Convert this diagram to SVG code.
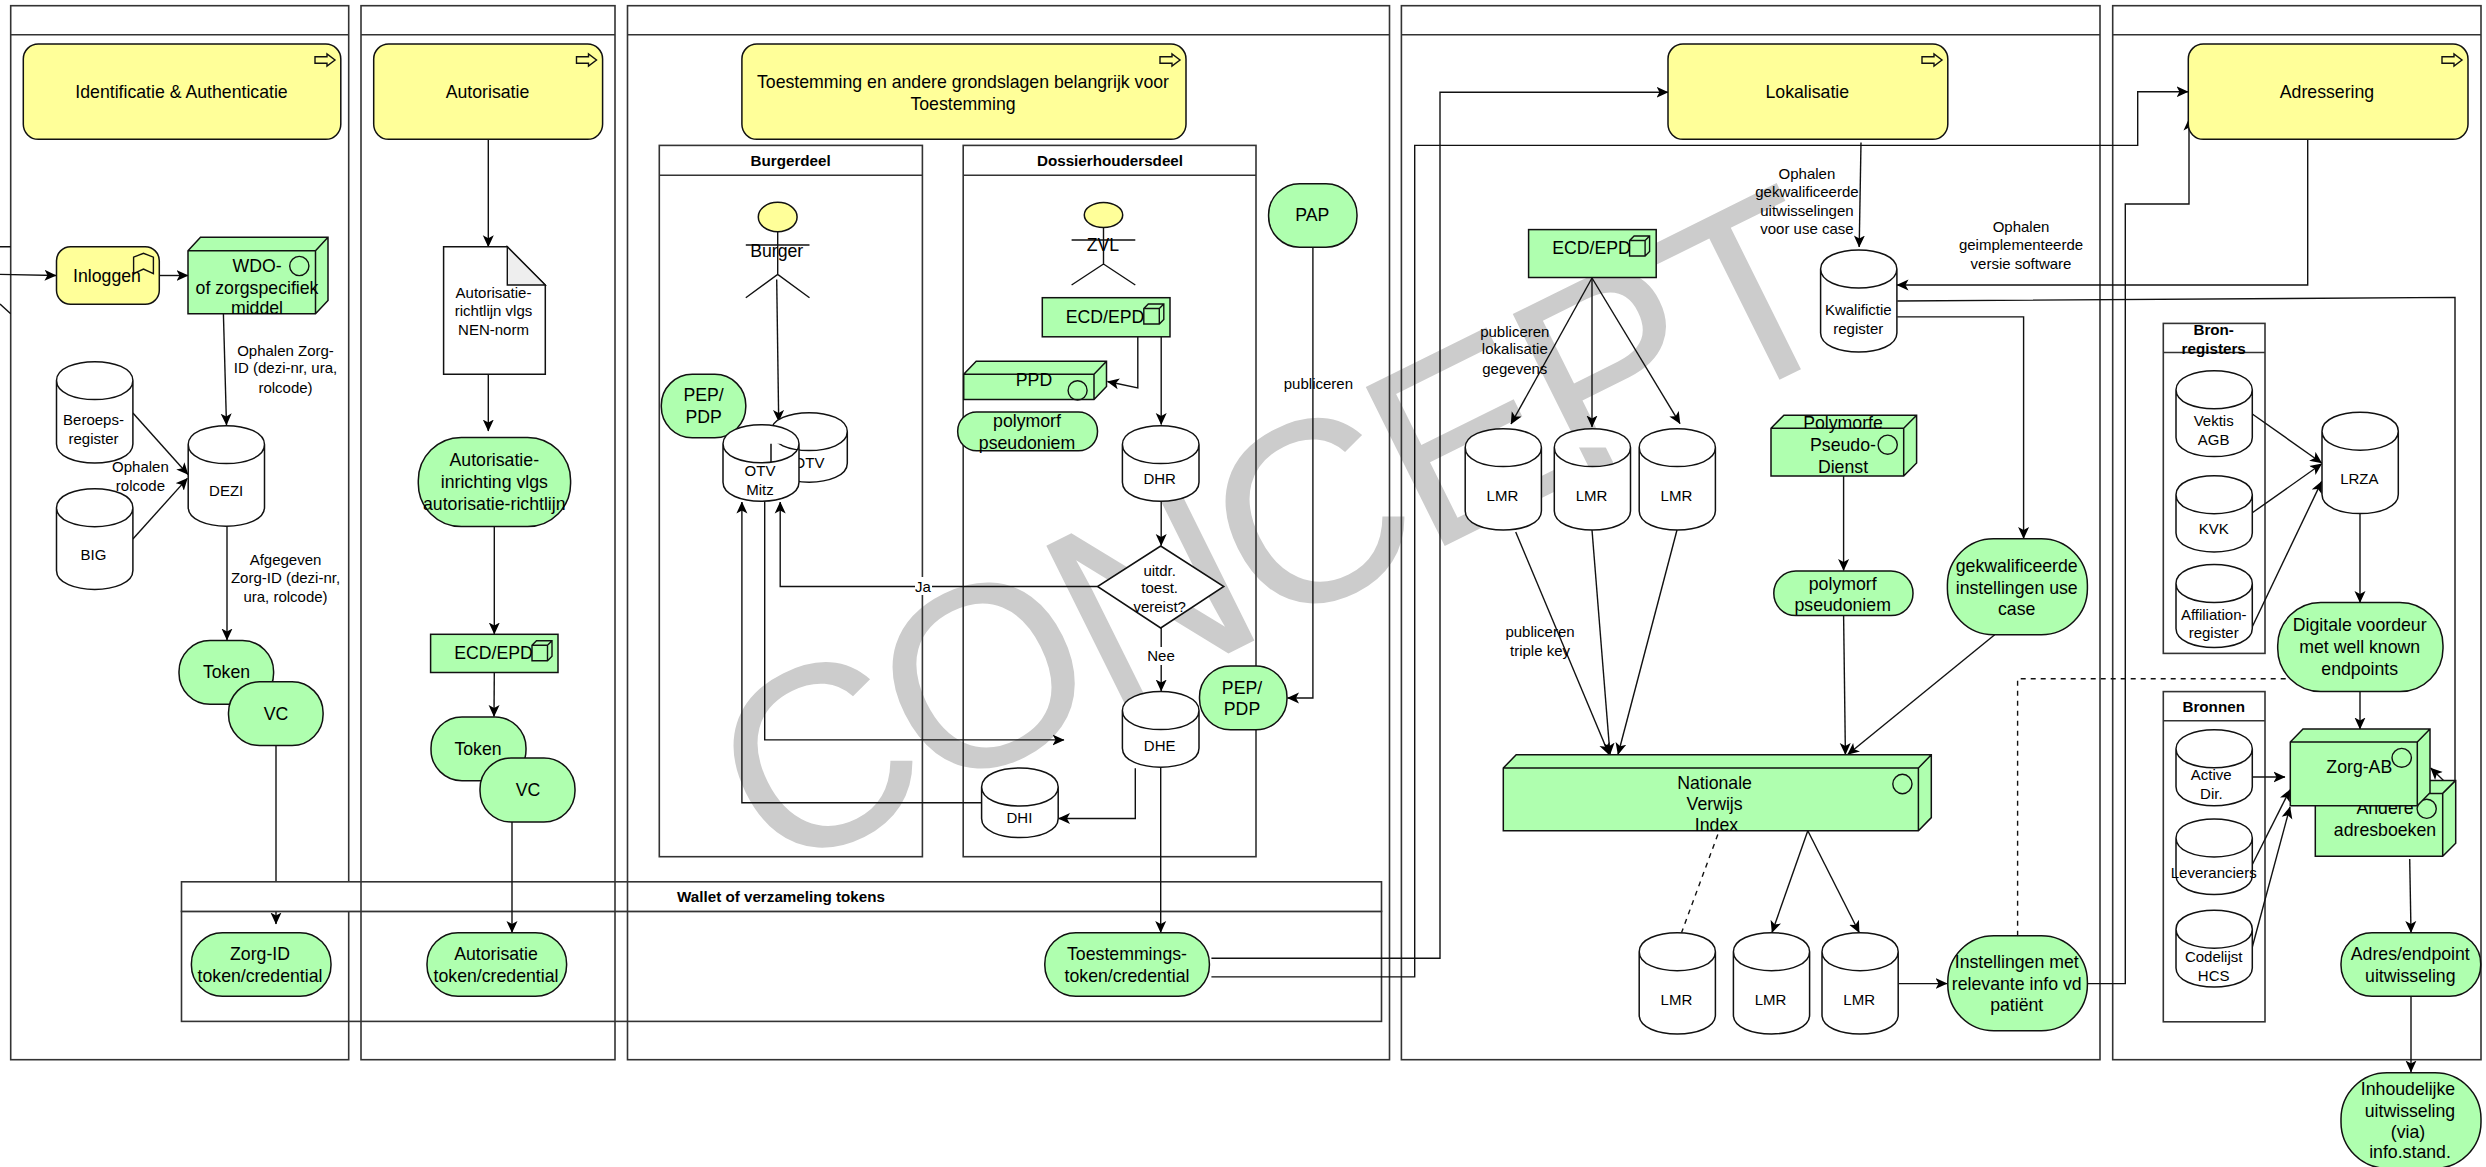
<svg xmlns="http://www.w3.org/2000/svg" xmlns:xlink="http://www.w3.org/1999/xlink" width="2486" height="1167" viewBox="0 0 2486 1167">
<style>
text{font-family:"Liberation Sans",Arial,sans-serif;fill:#000;text-anchor:middle;dominant-baseline:central}
.b{font-size:17.7px}.s{font-size:15px}.t{font-size:15.2px;font-weight:bold}
.panel{fill:none;stroke:#333;stroke-width:1.6}
.hd{fill:#fff;stroke:#333;stroke-width:1.6}
.y{fill:#ffff99;stroke:#111;stroke-width:1.5}
.g{fill:#afffaf;stroke:#111;stroke-width:1.5}
.w{fill:#fff;stroke:#111;stroke-width:1.5}
.i{fill:none;stroke:#111;stroke-width:1.4}
.c{fill:none;stroke:#111;stroke-width:1.4}
.a{marker-end:url(#arr)}
.d{stroke-dasharray:5 5}
.bg{fill:#fff;stroke:none}
</style>
<defs>
<marker id="arr" viewBox="0 0 12 12" refX="11.5" refY="6" markerWidth="12" markerHeight="12" markerUnits="userSpaceOnUse" orient="auto"><path d="M0,0.5 L12,6 L0,11.5 L3,6 Z" fill="#000"/></marker>
<path id="arrow-icon" class="i" d="M0,-3.2 H12 V-6 L20,0 L12,6 V3.2 H0 Z"/>
<path id="cube" class="i" d="M0,4.5 L4.5,0 H20 V15.5 L15.5,20 H0 Z M0,4.5 H15.5 V20 M15.5,4.5 L20,0"/>
</defs>

<text id="watermark" x="774" y="879" transform="rotate(-26.4 774 879)" style="font-size:258px;letter-spacing:-8px;fill:#cccccc;text-anchor:start;dominant-baseline:auto">CONCEPT</text>

<g id="panel-1"><rect class="panel" x="10.7" y="5.7" width="338" height="1054"/><line class="panel" x1="10.7" y1="34.8" x2="348.7" y2="34.8"/></g>
<g id="wallet"><rect class="panel" x="181.5" y="911.4" width="1200" height="110"/><rect class="hd" x="181.5" y="881.8" width="1200" height="29.6"/><text class="t" x="781" y="896.7">Wallet of verzameling tokens</text></g>
<g id="panel-2"><rect class="panel" x="361" y="5.7" width="254" height="1054"/><line class="panel" x1="361" y1="34.8" x2="615" y2="34.8"/></g>
<g id="panel-3"><rect class="panel" x="627.5" y="5.7" width="762" height="1054"/><line class="panel" x1="627.5" y1="34.8" x2="1389.5" y2="34.8"/></g>
<g id="panel-4"><rect class="panel" x="1401.4" y="5.7" width="698.6" height="1054"/><line class="panel" x1="1401.4" y1="34.8" x2="2100" y2="34.8"/></g>
<g id="panel-5"><rect class="panel" x="2112.7" y="5.7" width="368.3" height="1054"/><line class="panel" x1="2112.7" y1="34.8" x2="2481" y2="34.8"/></g>
<g id="burgerdeel"><rect class="panel" x="659.3" y="145.4" width="263.1" height="711.3"/><line class="panel" x1="659.3" y1="175.3" x2="922.4" y2="175.3"/><text class="t" x="790.6" y="160">Burgerdeel</text></g>
<g id="dossierhoudersdeel"><rect class="panel" x="963.2" y="145.4" width="292.8" height="711.3"/><line class="panel" x1="963.2" y1="175.3" x2="1256" y2="175.3"/><text class="t" x="1110" y="160">Dossierhoudersdeel</text></g>
<g id="bronregisters"><rect class="panel" x="2163.3" y="323.4" width="101.7" height="330"/><line class="panel" x1="2163.3" y1="352.5" x2="2265" y2="352.5"/><text class="t"><tspan x="2213.7" y="329">Bron-</tspan><tspan x="2213.7" y="348">registers</tspan></text></g>
<g id="bronnen"><rect class="panel" x="2163.3" y="691.6" width="101.7" height="330.2"/><line class="panel" x1="2163.3" y1="720.8" x2="2265" y2="720.8"/><text class="t" x="2213.7" y="706.2">Bronnen</text></g>

<g id="connectors">
<path class="c" d="M0,246.8 H10.7 M0,304 L10.7,313.8"/>
<path class="c a" d="M0,274.4 L56,275.5"/>
<path class="c a" d="M159.3,275.5 H188"/>
<path class="c a" d="M223.4,313.8 L226.5,425"/>
<path class="c a" d="M132.9,413 L188,474.5"/>
<path class="c a" d="M132.9,539 L187.4,478.4"/>
<path class="c a" d="M227,526.2 V640"/>
<path class="c" d="M276,745.5 V881"/>
<path class="c a" d="M276,911.8 V924"/>
<path class="c a" d="M488.3,139.3 V246.8"/>
<path class="c a" d="M488.3,374.3 V431"/>
<path class="c a" d="M494.3,526.6 V634"/>
<path class="c a" d="M494.3,672.5 L494,716.5"/>
<path class="c a" d="M512,822 V932.5"/>
<path class="c a" d="M776.7,279.4 L778.7,421.5"/>
<path class="c a" d="M981.6,802.8 H741.9 V502"/>
<path class="c a" d="M764.7,501.3 V739.9 H1064"/>
<path class="c a" d="M1097.5,586.5 H780.2 V502"/>
<path class="c a" d="M1137.8,336.8 V388 L1107.5,381.5"/>
<path class="c a" d="M1161.2,336.8 V424.5"/>
<path class="c a" d="M1161.2,501.3 V545.5"/>
<path class="c a" d="M1161.2,628 V691"/>
<path class="c a" d="M1135.3,768.3 V818.5 H1058.5"/>
<path class="c a" d="M1160.7,767.2 V932.5"/>
<path class="c a" d="M1312.9,247.2 V698 H1287.5"/>
<path class="c a" d="M1211.4,958.2 H1440 V92.2 H1668"/>
<path class="c a" d="M1211.4,976.9 H1414.7 V145.4 H2137.7 V91.8 H2188"/>
<path class="c a" d="M1861,142.4 L1859.2,247"/>
<path class="c a" d="M2307.7,139.3 V285 H1897"/>
<path class="c a" d="M1897.3,301 L2455,297.4 V791.7 L2430.7,768"/>
<path class="c a" d="M1897.3,316.9 H2023.6 V538.5"/>
<path class="c a" d="M1592,278 L1511,424"/>
<path class="c a" d="M1592,278 V427"/>
<path class="c a" d="M1592,278 L1680,423.6"/>
<path class="c a" d="M1515.7,532 L1609,754.5"/>
<path class="c a" d="M1592,530 L1610,754.5"/>
<path class="c a" d="M1677,530 L1618,754.5"/>
<path class="c a" d="M1843.6,476 V570.5"/>
<path class="c a" d="M1843.6,615.6 L1845.4,754.5"/>
<path class="c a" d="M1994.7,634.7 L1847.7,754.5"/>
<path class="c a" d="M1807.8,830.8 L1772,932.5"/>
<path class="c a" d="M1807.8,830.8 L1859.2,932.5"/>
<path class="c d" d="M1717.8,834.6 L1681.5,932.7"/>
<path class="c a" d="M1898.7,983.6 H1947"/>
<path class="c a" d="M2087.4,983.6 H2125.3 V204 H2189 V119"/>
<path class="c d" d="M2017.6,935.7 V678.8 H2291"/>
<path class="c a" d="M2252.3,414 L2321.7,463"/>
<path class="c a" d="M2252.3,512.8 L2321.7,463.8"/>
<path class="c a" d="M2251.7,628 L2321.7,481.4"/>
<path class="c a" d="M2360,513.6 V602.5"/>
<path class="c a" d="M2360,691.6 V729"/>
<path class="c a" d="M2252.3,777 H2285"/>
<path class="c a" d="M2252.3,864.5 L2290,789.7"/>
<path class="c a" d="M2252.3,947 L2290,807"/>
<path class="c a" d="M2409.7,859 L2411,932.5"/>
<path class="c a" d="M2411,996.3 V1072"/>
</g>

<g id="yellow-identificatie"><rect class="y" x="23.3" y="44" width="317.5" height="95.3" rx="15"/><use xlink:href="#arrow-icon" href="#arrow-icon" x="315" y="60"/><text class="b" x="181.5" y="91.8">Identificatie &amp; Authenticatie</text></g>
<g id="yellow-autorisatie"><rect class="y" x="373.7" y="44" width="228.9" height="95.3" rx="15"/><use href="#arrow-icon" x="576.5" y="60"/><text class="b" x="487.5" y="91.8">Autorisatie</text></g>
<g id="yellow-toestemming"><rect class="y" x="741.9" y="44" width="444.1" height="95.3" rx="15"/><use href="#arrow-icon" x="1160" y="60"/><text class="b"><tspan x="963" y="82">Toestemming en andere grondslagen belangrijk voor</tspan><tspan x="963" y="103.7">Toestemming</tspan></text></g>
<g id="yellow-lokalisatie"><rect class="y" x="1668" y="44" width="279.8" height="95.3" rx="15"/><use href="#arrow-icon" x="1922" y="60"/><text class="b" x="1807.3" y="91.8">Lokalisatie</text></g>
<g id="yellow-adressering"><rect class="y" x="2188.3" y="44" width="279.7" height="95.3" rx="15"/><use href="#arrow-icon" x="2442" y="60"/><text class="b" x="2327" y="91.8">Adressering</text></g>

<g id="inloggen"><rect class="y" x="56.5" y="246.8" width="102.8" height="57.4" rx="14"/><path class="i" d="M133.6,257.2 L143.5,253.3 L153.4,257.2 V273.6 L143.5,269 L133.6,273.6 Z"/><text class="b" x="107" y="275.5">Inloggen</text></g>
<g id="wdo"><path class="g" d="M188,250.7 L200.5,237.3 H328 V300.4 L315.5,313.8 H188 Z M188,250.7 H315.5 V313.8 M315.5,250.7 L328,237.3"/><ellipse class="i" cx="299.3" cy="266" rx="9.6" ry="9.6"/><text class="b"><tspan x="257" y="266">WDO-</tspan><tspan x="257" y="288">of zorgspecifiek</tspan><tspan x="257" y="308">middel</tspan></text></g>
<g id="beroepsregister" transform="translate(56.5,361.6)"><path class="w" d="M0,19 C0,-6.3 76.4,-6.3 76.4,19 V82.4 C76.4,107.7 0,107.7 0,82.4 Z M0,19 C0,44.3 76.4,44.3 76.4,19"/><text class="s"><tspan x="37" y="57.5">Beroeps-</tspan><tspan x="37" y="76.5">register</tspan></text></g>
<g id="big" transform="translate(56.5,488.7)"><path class="w" d="M0,19 C0,-6.3 76.4,-6.3 76.4,19 V81.7 C76.4,107 0,107 0,81.7 Z M0,19 C0,44.3 76.4,44.3 76.4,19"/><text class="s" x="37" y="66">BIG</text></g>
<g id="dezi" transform="translate(188.2,425.6)"><path class="w" d="M0,19 C0,-6.3 76.3,-6.3 76.3,19 V81.6 C76.3,106.9 0,106.9 0,81.6 Z M0,19 C0,44.3 76.3,44.3 76.3,19"/><text class="s" x="38" y="65">DEZI</text></g>
<g id="token-1"><rect class="g" x="179" y="640.6" width="94.6" height="63.7" rx="31"/><text class="b" x="226.5" y="672">Token</text></g>
<g id="vc-1"><rect class="g" x="228.5" y="681.8" width="94.6" height="63.7" rx="31"/><text class="b" x="276" y="713.5">VC</text></g>
<g id="zorg-id-token"><rect class="g" x="191.4" y="932.7" width="139.6" height="63.6" rx="31"/><text class="b"><tspan x="260" y="954.4">Zorg-ID</tspan><tspan x="260" y="975.7">token/credential</tspan></text></g>
<text class="s"><tspan x="285.5" y="350">Ophalen Zorg-</tspan><tspan x="285.5" y="367">ID (dezi-nr, ura,</tspan><tspan x="285.5" y="386.5">rolcode)</tspan></text>
<text class="s"><tspan x="140.4" y="466">Ophalen</tspan><tspan x="140.4" y="485">rolcode</tspan></text>
<text class="s"><tspan x="285.5" y="559">Afgegeven</tspan><tspan x="285.5" y="577">Zorg-ID (dezi-nr,</tspan><tspan x="285.5" y="595.7">ura, rolcode)</tspan></text>

<g id="autorisatierichtlijn"><path class="w" d="M443.6,246.8 H507.3 L545.3,285 V374.3 H443.6 Z"/><path d="M507.3,246.8 L545.3,285 H507.3 Z" fill="#eee" stroke="#111" stroke-width="1.4"/><text class="s"><tspan x="493.5" y="292.4">Autorisatie-</tspan><tspan x="493.5" y="310.4">richtlijn vlgs</tspan><tspan x="493.5" y="329">NEN-norm</tspan></text></g>
<g id="autorisatie-inrichting"><rect class="g" x="418.3" y="437.4" width="152.3" height="89.2" rx="43"/><text class="b"><tspan x="494.3" y="460">Autorisatie-</tspan><tspan x="494.3" y="482">inrichting vlgs</tspan><tspan x="494.3" y="504">autorisatie-richtlijn</tspan></text></g>
<g id="ecd-epd-2"><rect class="g" x="430.6" y="634.3" width="127.4" height="38.2"/><use href="#cube" x="532" y="640.7"/><text class="b" x="493.5" y="653">ECD/EPD</text></g>
<g id="token-2"><rect class="g" x="431" y="717" width="95" height="63.7" rx="31"/><text class="b" x="478" y="748.5">Token</text></g>
<g id="vc-2"><rect class="g" x="480" y="758" width="95" height="64" rx="31"/><text class="b" x="528" y="790">VC</text></g>
<g id="autorisatie-token"><rect class="g" x="427" y="932.7" width="139.6" height="63.6" rx="31"/><text class="b"><tspan x="496" y="954.4">Autorisatie</tspan><tspan x="496" y="975.7">token/credential</tspan></text></g>

<g id="burger"><ellipse class="y" cx="777.7" cy="217" rx="19.4" ry="14.7"/><path class="i" d="M777.7,231.7 V274.4 M745.8,245 H809.5 M745.8,297.7 L777.7,274.4 L809.5,297.7"/><text class="b" x="776.7" y="251.4">Burger</text></g>
<g id="pep-pdp-1"><rect class="g" x="661.3" y="374.3" width="84.5" height="63.5" rx="31"/><text class="b"><tspan x="703.6" y="395.3">PEP/</tspan><tspan x="703.6" y="416.8">PDP</tspan></text></g>
<g id="otv" transform="translate(771,412.6)"><path class="w" d="M0,19 C0,-6.3 76.3,-6.3 76.3,19 V50.6 C76.3,75.9 0,75.9 0,50.6 Z M0,19 C0,44.3 76.3,44.3 76.3,19"/><text class="s" x="38" y="49.5">OTV</text></g>
<g id="otv-mitz" transform="translate(723,424.8)"><path class="w" d="M0,19 C0,-6.3 76,-6.3 76,19 V57.5 C76,82.8 0,82.8 0,57.5 Z M0,19 C0,44.3 76,44.3 76,19"/><text class="s"><tspan x="37" y="45.2">OTV</tspan><tspan x="37" y="63.9">Mitz</tspan></text></g>
<g id="zvl"><ellipse class="y" cx="1103.5" cy="215" rx="19.2" ry="12.6"/><path class="i" d="M1103.5,227.6 V264 M1071.6,240 H1135.3 M1071.6,285 L1103.5,264 L1135.3,285"/><text class="b" x="1103" y="245">ZVL</text></g>
<g id="ecd-epd-1"><rect class="g" x="1042.3" y="297.7" width="127.7" height="39.1"/><use href="#cube" x="1143.8" y="304"/><text class="b" x="1105" y="317">ECD/EPD</text></g>
<g id="ppd"><path class="g" d="M963.7,374.3 L976.2,361.3 H1106.5 V386.5 L1094,399.5 H963.7 Z M963.7,374.3 H1094 V399.5 M1094,374.3 L1106.5,361.3"/><ellipse class="i" cx="1077.6" cy="390.4" rx="9.5" ry="9.6"/><text class="b" x="1034" y="380">PPD</text></g>
<g id="polymorf-1"><rect class="g" x="957.7" y="412" width="139.8" height="38.8" rx="19"/><text class="b"><tspan x="1027" y="421">polymorf</tspan><tspan x="1027" y="442.8">pseudoniem</tspan></text></g>
<g id="dhr" transform="translate(1122.4,425.6)"><path class="w" d="M0,19 C0,-6.3 76.6,-6.3 76.6,19 V56.7 C76.6,82 0,82 0,56.7 Z M0,19 C0,44.3 76.6,44.3 76.6,19"/><text class="s" x="37.3" y="53">DHR</text></g>
<g id="toest-vereist"><polygon class="w" points="1160.7,546 1223.8,586.5 1160.7,628 1097.5,586.5"/><text class="s"><tspan x="1159.7" y="569.5">uitdr.</tspan><tspan x="1159.7" y="586.7">toest.</tspan><tspan x="1159.7" y="606">vereist?</tspan></text></g>
<g id="dhe" transform="translate(1122.4,691.6)"><path class="w" d="M0,19 C0,-6.3 76.6,-6.3 76.6,19 V56.6 C76.6,81.9 0,81.9 0,56.6 Z M0,19 C0,44.3 76.6,44.3 76.6,19"/><text class="s" x="37.3" y="53.9">DHE</text></g>
<g id="dhi" transform="translate(981.6,768)"><path class="w" d="M0,19 C0,-6.3 76.6,-6.3 76.6,19 V50.6 C76.6,75.9 0,75.9 0,50.6 Z M0,19 C0,44.3 76.6,44.3 76.6,19"/><text class="s" x="37.8" y="49.7">DHI</text></g>
<g id="pep-pdp-2"><rect class="g" x="1199.5" y="666" width="87.5" height="63.8" rx="31"/><text class="b"><tspan x="1242" y="687.5">PEP/</tspan><tspan x="1242" y="709">PDP</tspan></text></g>
<g id="pap"><rect class="g" x="1268.6" y="183.7" width="88.4" height="63.5" rx="31"/><text class="b" x="1312.4" y="215">PAP</text></g>
<g id="toestemmings-token"><rect class="g" x="1044.8" y="932.7" width="164.6" height="63.6" rx="31"/><text class="b"><tspan x="1127" y="954.4">Toestemmings-</tspan><tspan x="1127" y="975.7">token/credential</tspan></text></g>
<rect class="bg" x="915" y="577" width="17" height="18"/><text class="s" x="923" y="586.5">Ja</text>
<rect class="bg" x="1144" y="647" width="34" height="18"/><text class="s" x="1161" y="655.6">Nee</text>
<text class="s" x="1318.4" y="383.8">publiceren</text>

<g id="ecd-epd-3"><rect class="g" x="1528.6" y="229.6" width="127.6" height="47.9"/><use href="#cube" x="1629.6" y="236"/><text class="b" x="1591.5" y="248.4">ECD/EPD</text></g>
<g id="kwalifictie" transform="translate(1820.6,250)"><path class="w" d="M0,19 C0,-6.3 76.3,-6.3 76.3,19 V83 C76.3,108.3 0,108.3 0,83 Z M0,19 C0,44.3 76.3,44.3 76.3,19"/><text class="s"><tspan x="37.7" y="58.8">Kwalifictie</tspan><tspan x="37.7" y="78">register</tspan></text></g>
<text class="s"><tspan x="1806.9" y="173">Ophalen</tspan><tspan x="1806.9" y="191">gekwalificeerde</tspan><tspan x="1806.9" y="209.7">uitwisselingen</tspan><tspan x="1806.9" y="227.7">voor use case</tspan></text>
<text class="s"><tspan x="2021" y="226">Ophalen</tspan><tspan x="2021" y="244">geimplementeerde</tspan><tspan x="2021" y="263">versie software</tspan></text>
<text class="s"><tspan x="1514.8" y="330.6">publiceren</tspan><tspan x="1514.8" y="348">lokalisatie</tspan><tspan x="1514.8" y="367.8">gegevens</tspan></text>
<text class="s"><tspan x="1540" y="631.3">publiceren</tspan><tspan x="1540" y="650">triple key</tspan></text>
<g id="lmr-1" transform="translate(1465.2,428.6)"><path class="w" d="M0,19 C0,-6.3 76.2,-6.3 76.2,19 V82.4 C76.2,107.7 0,107.7 0,82.4 Z M0,19 C0,44.3 76.2,44.3 76.2,19"/><text class="s" x="37.2" y="67">LMR</text></g>
<g id="lmr-2" transform="translate(1554.3,428.6)"><path class="w" d="M0,19 C0,-6.3 76.2,-6.3 76.2,19 V82.4 C76.2,107.7 0,107.7 0,82.4 Z M0,19 C0,44.3 76.2,44.3 76.2,19"/><text class="s" x="37.2" y="67">LMR</text></g>
<g id="lmr-3" transform="translate(1639.2,428.6)"><path class="w" d="M0,19 C0,-6.3 76.2,-6.3 76.2,19 V82.4 C76.2,107.7 0,107.7 0,82.4 Z M0,19 C0,44.3 76.2,44.3 76.2,19"/><text class="s" x="37.2" y="67">LMR</text></g>
<g id="polymorfe-dienst"><path class="g" d="M1771,428.2 L1783.9,415.2 H1916.6 V463 L1903.7,476 H1771 Z M1771,428.2 H1903.7 V476 M1903.7,428.2 L1916.6,415.2"/><ellipse class="i" cx="1887.7" cy="444.7" rx="9.6" ry="9.6"/><text class="b"><tspan x="1843" y="423.3">Polymorfe</tspan><tspan x="1843" y="445">Pseudo-</tspan><tspan x="1843" y="466.5">Dienst</tspan></text></g>
<g id="polymorf-2"><rect class="g" x="1773.8" y="571" width="139.2" height="44.6" rx="22"/><text class="b"><tspan x="1842.7" y="583.6">polymorf</tspan><tspan x="1842.7" y="605">pseudoniem</tspan></text></g>
<g id="gekwalificeerde"><rect class="g" x="1947.4" y="538.8" width="140" height="95.9" rx="46"/><text class="b"><tspan x="2016.7" y="566">gekwalificeerde</tspan><tspan x="2016.7" y="587.5">instellingen use</tspan><tspan x="2016.7" y="608.8">case</tspan></text></g>
<g id="nvi"><path class="g" d="M1503.3,768 L1516.2,754.8 H1931.3 V817.6 L1918.4,830.8 H1503.3 Z M1503.3,768 H1918.4 V830.8 M1918.4,768 L1931.3,754.8"/><ellipse class="i" cx="1902.4" cy="784" rx="9.6" ry="9.7"/><text class="b"><tspan x="1714.6" y="783">Nationale</tspan><tspan x="1714.6" y="804.3">Verwijs</tspan><tspan x="1716.5" y="824.9">Index</tspan></text></g>
<g id="lmr-4" transform="translate(1639.2,932.7)"><path class="w" d="M0,19 C0,-6.3 76.2,-6.3 76.2,19 V82.3 C76.2,107.6 0,107.6 0,82.3 Z M0,19 C0,44.3 76.2,44.3 76.2,19"/><text class="s" x="37.2" y="66.6">LMR</text></g>
<g id="lmr-5" transform="translate(1733.4,932.7)"><path class="w" d="M0,19 C0,-6.3 76.2,-6.3 76.2,19 V82.3 C76.2,107.6 0,107.6 0,82.3 Z M0,19 C0,44.3 76.2,44.3 76.2,19"/><text class="s" x="37.2" y="66.6">LMR</text></g>
<g id="lmr-6" transform="translate(1822,932.7)"><path class="w" d="M0,19 C0,-6.3 76.2,-6.3 76.2,19 V82.3 C76.2,107.6 0,107.6 0,82.3 Z M0,19 C0,44.3 76.2,44.3 76.2,19"/><text class="s" x="37.2" y="66.6">LMR</text></g>
<g id="instellingen"><rect class="g" x="1947.8" y="935.7" width="139.6" height="95.1" rx="46"/><text class="b"><tspan x="2016.7" y="962.3">Instellingen met</tspan><tspan x="2016.7" y="983.6">relevante info vd</tspan><tspan x="2016.7" y="1005">patiënt</tspan></text></g>

<g id="vektis" transform="translate(2176,370.8)"><path class="w" d="M0,19 C0,-6.3 76.3,-6.3 76.3,19 V66.8 C76.3,92.1 0,92.1 0,66.8 Z M0,19 C0,44.3 76.3,44.3 76.3,19"/><text class="s"><tspan x="37.7" y="49.2">Vektis</tspan><tspan x="37.7" y="68.2">AGB</tspan></text></g>
<g id="kvk" transform="translate(2176,475.7)"><path class="w" d="M0,19 C0,-6.3 76.3,-6.3 76.3,19 V57.2 C76.3,82.5 0,82.5 0,57.2 Z M0,19 C0,44.3 76.3,44.3 76.3,19"/><text class="s" x="37.7" y="53.3">KVK</text></g>
<g id="affiliation" transform="translate(2176,564.5)"><path class="w" d="M0,19 C0,-6.3 76.3,-6.3 76.3,19 V64 C76.3,89.3 0,89.3 0,64 Z M0,19 C0,44.3 76.3,44.3 76.3,19"/><text class="s"><tspan x="37.7" y="49.2">Affiliation-</tspan><tspan x="37.7" y="67.9">register</tspan></text></g>
<g id="lrza" transform="translate(2322,412.2)"><path class="w" d="M0,19 C0,-6.3 76.3,-6.3 76.3,19 V82.4 C76.3,107.7 0,107.7 0,82.4 Z M0,19 C0,44.3 76.3,44.3 76.3,19"/><text class="s" x="37.3" y="66.5">LRZA</text></g>
<g id="digitale-voordeur"><rect class="g" x="2277.7" y="602.5" width="165.3" height="89.1" rx="43"/><text class="b"><tspan x="2359.7" y="625.3">Digitale voordeur</tspan><tspan x="2359.7" y="647">met well known</tspan><tspan x="2359.7" y="668.7">endpoints</tspan></text></g>
<g id="active-dir" transform="translate(2176,729.8)"><path class="w" d="M0,19 C0,-6.3 76.3,-6.3 76.3,19 V57 C76.3,82.3 0,82.3 0,57 Z M0,19 C0,44.3 76.3,44.3 76.3,19"/><text class="s"><tspan x="35.3" y="44.5">Active</tspan><tspan x="35.3" y="63.6">Dir.</tspan></text></g>
<g id="leveranciers" transform="translate(2176,818.9)"><path class="w" d="M0,19 C0,-6.3 76.3,-6.3 76.3,19 V56.6 C76.3,81.9 0,81.9 0,56.6 Z M0,19 C0,44.3 76.3,44.3 76.3,19"/><text class="s" x="37.7" y="53.5">Leveranciers</text></g>
<g id="codelijst" transform="translate(2176,910.2)"><path class="w" d="M0,19 C0,-6.3 76.3,-6.3 76.3,19 V57.8 C76.3,83.1 0,83.1 0,57.8 Z M0,19 C0,44.3 76.3,44.3 76.3,19"/><text class="s"><tspan x="37.7" y="46.1">Codelijst</tspan><tspan x="37.7" y="64.4">HCS</tspan></text></g>
<g id="andere-adresboeken"><path class="g" d="M2315.3,793.4 L2328.3,780.4 H2455.7 V843.3 L2442.7,856.3 H2315.3 Z M2315.3,793.4 H2442.7 V856.3 M2442.7,793.4 L2455.7,780.4"/><ellipse class="i" cx="2426.7" cy="808.8" rx="9.6" ry="9.6"/><text class="b"><tspan x="2385" y="808.4">Andere</tspan><tspan x="2385" y="829.7">adresboeken</tspan></text></g>
<g id="zorg-ab"><path class="g" d="M2290.3,742 L2303,729 H2430 V792.8 L2417.3,805.8 H2290.3 Z M2290.3,742 H2417.3 V805.8 M2417.3,742 L2430,729"/><ellipse class="i" cx="2401.7" cy="757.8" rx="9.7" ry="9.4"/><text class="b" x="2359.3" y="767.2">Zorg-AB</text></g>
<g id="adres-endpoint"><rect class="g" x="2341" y="932.7" width="139.7" height="63.6" rx="31"/><text class="b"><tspan x="2410.3" y="954.4">Adres/endpoint</tspan><tspan x="2410.3" y="975.7">uitwisseling</tspan></text></g>
<g id="inhoudelijke"><rect class="g" x="2341" y="1072.7" width="140" height="95.6" rx="46"/><text class="b"><tspan x="2408" y="1088.8">Inhoudelijke</tspan><tspan x="2410" y="1110.5">uitwisseling</tspan><tspan x="2408" y="1132.2">(via)</tspan><tspan x="2410" y="1152">info.stand.</tspan></text></g>
</svg>
